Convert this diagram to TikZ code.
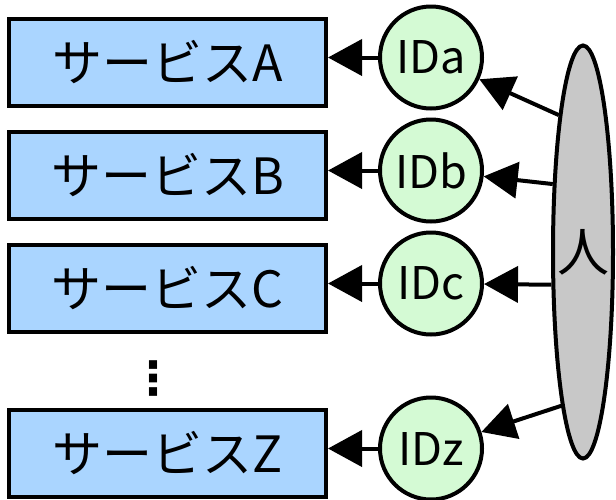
\documentclass[tikz,border=0pt]{standalone}
\usepackage{fontspec}
\setmainfont{Noto Sans CJK JP}
\newfontfamily\symfont{DejaVu Sans}
\usepackage{xcolor}
\usepackage{tikz}
\usetikzlibrary{positioning}
\usetikzlibrary{arrows.meta}
\usetikzlibrary{shapes}

\definecolor{svcblue}{RGB}{170,213,255}
\definecolor{idgreen}{RGB}{212,250,212}
\definecolor{persongray}{RGB}{200,200,200}

\begin{document}
\begin{tikzpicture}[line width=4pt,
      svc style/.style={rectangle,draw=black,fill=svcblue,minimum
        width=317pt,minimum height=87pt,inner sep=0pt,
        font=\fontsize{50}{54}\selectfont},
      id style/.style={circle,draw=black,fill=idgreen,minimum
        size=102pt,inner sep=0pt,font=\fontsize{45}{49}\selectfont},
      person style/.style={ellipse,draw=black,fill=persongray,minimum
        width=60pt,minimum height=413pt,inner sep=0pt},
      link style/.style={arrows={-Triangle[length=34pt,width=36pt]}}
      ]
      \useasboundingbox (0,0) rectangle (616pt,-499pt);

      \node[svc style] (sa) at (167.5pt,-62.5pt) {サービスA};
      \node[svc style,below=22pt of sa] (sb) {サービスB};
      \node[svc style,below=22pt of sb] (sc) {サービスC};
      \node[svc style,below=74pt of sc] (sz) {サービスZ};
      \node[font=\symfont\bfseries\fontsize{46}{50}\selectfont] (dots) at (153pt,-379pt) {⋮};

      \node[id style,right=50pt of sa,yshift=5pt] (ida) {IDa};
      \node[id style,right=50pt of sb,yshift=5pt] (idb) {IDb};
      \node[id style,right=50pt of sc,yshift=5pt] (idc) {IDc};
      \node[id style,right=50pt of sz,yshift=5pt] (idz) {IDz};

      \node[person style,label={[font=\fontsize{52}{56}\selectfont]center:人}]
        (person) at (583pt,-252pt) {};


      \draw[link style] (ida) -- (ida -| sa.east);
      \draw[link style] (idb) -- (idb -| sb.east);
      \draw[link style] (idc) -- (idc -| sc.east);
      \draw[link style] (idz) -- (idz -| sz.east);

      \draw[link style] (person.100) -- (ida);
      \draw[link style] (person.114) -- (idb);
      \draw[link style] (person.226) -- (idc);
      \draw[link style] (person.262) -- (idz);

    \end{tikzpicture}
\end{document}
